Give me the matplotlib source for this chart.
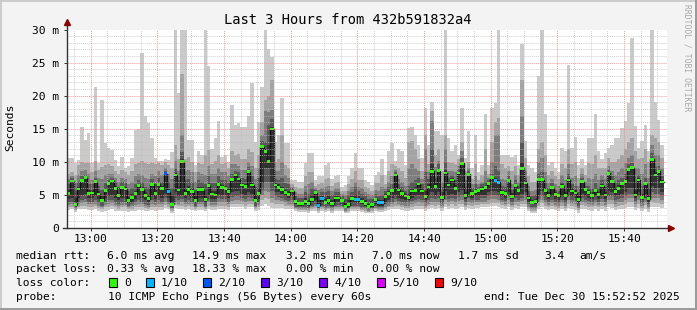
import matplotlib
matplotlib.use("Agg")
import matplotlib.pyplot as plt
import numpy as np
from matplotlib.lines import Line2D
from matplotlib.patches import Rectangle

# one column per minute, 12:53 .. 15:52 (ms)
median = [
    5.25, 7.1, 3.5, 5.9, 7.2, 7.6, 5.2, 5.3, 7.0, 5.15,
    4.2, 5.7, 6.7, 7.1, 6.0, 4.9, 6.1, 5.9, 4.1, 4.6,
    5.2, 6.4, 5.8, 4.9, 4.4, 6.6, 5.2, 6.6, 6.0, 8.2,
    5.5, 3.6, 8.0, 5.75, 10.05, 5.25, 5.85, 5.5, 4.15, 5.8,
    5.8, 4.25, 6.4, 5.15, 5.0, 6.6, 6.1, 6.0, 5.5, 7.3,
    8.0, 7.4, 6.5, 6.3, 8.5, 6.5, 4.1, 5.25, 12.3, 11.6,
    10.0, 14.95, 6.5, 6.15, 5.8, 5.35, 5.05, 5.6, 4.0, 3.75,
    3.75, 4.0, 3.65, 4.3, 5.35, 3.45, 4.45, 3.9, 4.15, 3.65,
    4.55, 4.55, 4.15, 3.2, 3.5, 4.5, 4.25, 4.3, 4.0, 3.65,
    3.25, 3.5, 4.35, 3.8, 3.8, 4.8, 5.2, 5.65, 8.0, 5.75,
    5.25, 4.85, 4.6, 5.6, 5.7, 6.65, 5.6, 4.75, 6.2, 8.55,
    6.3, 8.65, 4.6, 8.3, 6.5, 7.25, 6.0, 8.3, 9.75, 4.9,
    8.1, 5.2, 5.5, 5.65, 5.9, 6.1, 6.75, 7.6, 7.2, 6.9,
    5.4, 5.25, 7.2, 4.8, 6.4, 5.7, 9.05, 6.8, 4.55, 3.9,
    4.0, 7.3, 7.3, 5.65, 4.95, 6.1, 5.05, 4.9, 6.3, 4.9,
    7.25, 5.6, 5.3, 4.3, 7.0, 5.8, 5.35, 4.95, 5.65, 5.05,
    6.35, 5.0, 8.25, 7.0, 5.5, 6.0, 6.75, 7.0, 8.85, 9.1,
    5.0, 7.25, 4.65, 6.7, 4.45, 10.4, 8.0, 8.55, 6.95,
]

# sorted pings of each minute, ping1 fastest .. ping10 slowest (ms)
ping10 = [
    10.6, 10.6, 9.8, 10.3, 15.2, 13.3, 14.4, 9.8, 21.3, 9.8,
    19.3, 12.8, 12.1, 11.8, 10.3, 9.3, 10.8, 9.0, 9.3, 10.6,
    14.8, 15.0, 26.4, 16.9, 15.8, 13.6, 10.6, 10.2, 10.2, 10.4,
    10.3, 11.5, 32, 20.4, 32, 32, 13.3, 13.3, 9.5, 11.6,
    11.0, 32, 24.5, 12.0, 13.6, 16.1, 10.8, 11.0, 10.0, 18.6,
    15.6, 15.8, 15.3, 15.3, 16.9, 21.9, 13.0, 16.0, 21.3, 32,
    27.0, 25.8, 13.0, 14.0, 19.6, 12.8, 12.8, 7.2, 7.2, 7.0,
    7.0, 9.8, 11.3, 11.3, 7.2, 7.8, 7.8, 9.5, 9.8, 7.4,
    7.8, 8.0, 6.2, 6.5, 7.8, 9.0, 11.3, 9.0, 9.0, 7.2,
    7.0, 6.5, 8.0, 8.5, 10.5, 8.0, 11.6, 12.8, 10.2, 12.0,
    11.6, 9.5, 15.1, 15.2, 14.1, 12.6, 10.6, 18.1, 12.6, 19.0,
    14.6, 14.6, 14.0, 32, 13.6, 11.6, 12.6, 11.0, 18.1, 10.6,
    14.6, 9.0, 14.1, 8.5, 9.5, 17.2, 9.5, 18.1, 18.9, 32,
    11.0, 11.0, 11.0, 10.8, 11.0, 9.5, 27.8, 13.1, 9.5, 9.0,
    8.5, 23.0, 32, 17.2, 9.5, 10.0, 9.0, 8.5, 12.1, 11.6,
    24.6, 12.1, 13.8, 9.5, 10.5, 9.5, 13.6, 13.6, 17.2, 11.6,
    10.5, 11.3, 12.1, 12.6, 13.6, 13.6, 15.1, 16.1, 18.9, 28.7,
    15.4, 12.1, 13.1, 15.5, 11.6, 32, 19.0, 16.3, 12.5,
]
ping9 = [
    8.2, 8.5, 8.0, 9.5, 10.0, 9.8, 9.8, 8.5, 10.2, 8.8,
    9.2, 9.5, 9.6, 9.4, 8.6, 8.2, 8.8, 8.4, 8.0, 8.6,
    9.6, 9.8, 10.2, 9.8, 9.6, 9.8, 9.6, 9.8, 9.5, 10.0,
    9.5, 9.0, 12.6, 10.5, 23.2, 10.5, 10.8, 10.0, 8.4, 9.8,
    9.6, 11.0, 11.8, 9.6, 10.2, 11.0, 9.6, 9.8, 9.0, 11.6,
    11.0, 11.2, 10.4, 10.5, 12.0, 11.5, 9.0, 11.0, 16.0, 19.3,
    20.0, 22.4, 10.0, 10.5, 14.0, 9.5, 9.0, 6.6, 6.2, 6.0,
    6.0, 7.8, 8.5, 8.5, 6.4, 6.6, 6.8, 7.4, 7.6, 6.4,
    6.8, 7.0, 5.6, 5.6, 6.6, 7.4, 8.6, 7.2, 7.2, 6.2,
    6.0, 5.6, 6.8, 6.8, 8.0, 6.6, 8.6, 9.6, 9.4, 9.0,
    8.6, 7.6, 13.0, 13.2, 12.0, 10.4, 8.6, 14.0, 9.6, 17.7,
    11.0, 12.0, 8.6, 14.0, 10.0, 9.8, 9.6, 10.4, 13.0, 8.6,
    10.0, 7.4, 9.6, 7.2, 8.0, 12.0, 8.2, 13.0, 16.0, 16.6,
    9.6, 9.0, 9.4, 8.6, 9.4, 8.0, 22.3, 10.6, 7.8, 7.0,
    7.0, 12.0, 13.0, 11.0, 8.0, 8.6, 7.8, 7.4, 9.6, 9.0,
    12.0, 9.6, 10.0, 7.6, 9.0, 8.0, 9.8, 9.6, 11.0, 9.0,
    9.0, 9.0, 10.6, 10.0, 10.0, 10.4, 11.0, 12.0, 13.0, 13.6,
    11.6, 10.4, 10.6, 12.0, 10.0, 14.0, 13.6, 13.0, 10.6,
]
ping8 = [
    7.4, 7.8, 6.8, 8.0, 8.6, 8.8, 8.2, 7.2, 8.6, 7.6,
    7.4, 8.0, 8.2, 8.2, 7.6, 7.0, 7.6, 7.4, 6.6, 7.0,
    7.8, 8.2, 8.0, 7.6, 7.4, 8.2, 7.8, 8.6, 8.0, 9.0,
    8.2, 7.4, 10.2, 8.6, 14.0, 8.6, 8.8, 8.4, 7.0, 8.4,
    8.2, 8.0, 9.4, 8.2, 8.2, 9.0, 8.4, 8.4, 7.8, 9.6,
    9.6, 9.4, 8.8, 8.8, 10.0, 9.4, 7.4, 9.0, 14.0, 17.7,
    17.6, 17.8, 8.6, 8.6, 10.0, 8.0, 7.6, 6.2, 5.4, 5.2,
    5.2, 6.4, 6.6, 7.0, 6.0, 5.8, 6.0, 6.2, 6.4, 5.6,
    6.0, 6.0, 5.2, 5.0, 5.6, 6.2, 7.0, 6.2, 6.0, 5.4,
    5.2, 5.0, 5.8, 5.6, 6.2, 6.0, 7.0, 7.8, 8.8, 7.4,
    7.0, 6.4, 9.0, 9.6, 9.0, 8.6, 7.4, 12.0, 8.4, 16.1,
    9.2, 10.2, 7.0, 12.0, 8.6, 8.6, 8.4, 9.4, 11.6, 7.2,
    9.0, 6.6, 7.8, 6.6, 7.0, 8.6, 7.6, 10.0, 14.0, 14.0,
    7.4, 7.2, 8.6, 6.6, 8.0, 7.0, 17.0, 8.6, 6.4, 5.6,
    5.8, 10.0, 10.6, 8.4, 6.8, 7.4, 6.6, 6.4, 8.0, 7.2,
    9.6, 7.6, 7.8, 6.4, 8.2, 7.0, 7.6, 7.4, 8.2, 7.2,
    8.0, 7.4, 9.4, 8.6, 8.0, 8.4, 9.0, 9.8, 10.6, 11.0,
    9.0, 9.0, 8.2, 9.6, 7.6, 12.6, 11.0, 11.0, 9.0,
]
ping7 = [
    6.6, 7.5, 5.6, 7.0, 7.8, 8.0, 6.6, 6.6, 7.6, 6.4,
    5.8, 6.8, 7.3, 7.6, 7.0, 6.2, 7.0, 6.8, 5.6, 6.0,
    6.6, 7.2, 7.0, 6.2, 6.0, 7.4, 6.6, 7.5, 7.0, 8.6,
    7.0, 6.0, 9.0, 7.2, 11.5, 7.2, 7.4, 7.0, 5.8, 7.2,
    7.0, 6.6, 7.8, 6.8, 6.8, 7.8, 7.2, 7.2, 6.8, 8.2,
    8.6, 8.4, 7.6, 7.4, 9.2, 7.8, 6.2, 7.6, 13.2, 13.0,
    15.6, 16.4, 7.4, 7.2, 7.6, 6.8, 6.6, 6.0, 4.8, 4.6,
    4.6, 5.4, 5.2, 6.0, 5.8, 5.0, 5.4, 5.4, 5.6, 5.0,
    5.4, 5.4, 4.8, 4.4, 5.0, 5.4, 6.2, 5.6, 5.2, 4.8,
    4.4, 4.4, 5.2, 4.8, 5.0, 5.6, 6.2, 6.6, 8.4, 6.6,
    6.2, 5.6, 6.4, 7.0, 7.2, 7.6, 6.6, 8.4, 7.4, 12.0,
    7.6, 9.6, 6.2, 10.0, 7.6, 8.0, 7.2, 8.8, 10.6, 6.2,
    8.6, 6.0, 6.6, 6.2, 6.6, 7.0, 7.2, 8.2, 9.4, 8.6,
    6.4, 6.2, 7.8, 5.8, 7.2, 6.4, 13.0, 7.6, 5.6, 4.8,
    5.0, 8.2, 8.4, 6.8, 6.0, 6.8, 5.8, 5.6, 7.0, 6.0,
    8.2, 6.6, 6.4, 5.4, 7.6, 6.4, 6.4, 6.0, 6.8, 6.0,
    7.2, 6.2, 8.8, 7.8, 6.8, 7.2, 7.6, 8.2, 9.6, 9.8,
    7.0, 8.0, 6.4, 7.6, 6.0, 11.4, 9.2, 9.4, 7.8,
]
ping6 = [
    5.8, 7.2, 4.6, 6.2, 7.3, 7.7, 5.8, 5.8, 7.1, 5.6,
    4.8, 6.0, 6.8, 7.2, 6.4, 5.3, 6.3, 6.2, 4.7, 5.1,
    5.6, 6.6, 6.2, 5.4, 5.0, 6.8, 5.7, 6.8, 6.3, 8.3,
    5.9, 5.0, 8.3, 6.2, 10.4, 5.8, 6.3, 6.0, 4.8, 6.2,
    6.2, 5.0, 6.8, 5.6, 5.6, 6.9, 6.5, 6.4, 5.9, 7.6,
    8.2, 7.6, 6.8, 6.6, 8.7, 6.8, 5.0, 6.0, 12.6, 12.0,
    12.6, 15.2, 6.8, 6.6, 6.2, 5.8, 5.6, 5.8, 4.3, 4.0,
    4.0, 4.6, 4.2, 5.0, 5.5, 4.2, 4.8, 4.6, 4.8, 4.3,
    4.9, 4.9, 4.4, 3.8, 4.2, 4.8, 5.0, 4.8, 4.5, 4.2,
    3.7, 3.9, 4.6, 4.2, 4.2, 5.1, 5.6, 6.0, 8.2, 6.0,
    5.6, 5.2, 5.2, 6.0, 6.2, 7.0, 6.0, 5.6, 6.6, 9.6,
    6.8, 9.0, 5.4, 8.8, 6.9, 7.5, 6.5, 8.5, 10.0, 5.5,
    8.3, 5.6, 5.9, 5.9, 6.2, 6.4, 6.9, 7.8, 7.6, 7.2,
    5.8, 5.6, 7.4, 5.3, 6.7, 6.0, 10.0, 7.1, 5.0, 4.3,
    4.4, 7.6, 7.6, 6.1, 5.4, 6.4, 5.4, 5.2, 6.6, 5.4,
    7.6, 6.0, 5.8, 4.8, 7.2, 6.1, 5.8, 5.4, 6.1, 5.5,
    6.7, 5.5, 8.5, 7.3, 6.0, 6.5, 7.0, 7.4, 9.1, 9.4,
    5.8, 7.5, 5.2, 7.0, 5.0, 10.6, 8.4, 8.8, 7.3,
]
ping5 = [
    4.4, 4.6, 3.4, 4.6, 5.0, 5.2, 4.6, 4.6, 4.8, 4.4,
    3.8, 4.6, 4.9, 5.0, 4.6, 4.2, 4.6, 4.4, 3.8, 4.0,
    4.4, 4.8, 4.6, 4.2, 3.9, 4.8, 4.4, 4.8, 4.6, 5.2,
    4.6, 3.3, 5.4, 4.8, 5.0, 4.6, 4.8, 4.6, 3.8, 4.6,
    4.6, 3.8, 5.0, 4.4, 4.4, 5.2, 5.0, 5.0, 4.6, 5.4,
    5.6, 5.6, 5.2, 5.0, 5.4, 5.2, 3.8, 4.4, 6.8, 9.0,
    9.0, 7.0, 5.4, 5.4, 5.2, 4.8, 4.6, 4.8, 3.6, 3.4,
    3.4, 3.6, 3.3, 3.8, 4.2, 3.3, 3.8, 3.6, 3.7, 3.4,
    3.8, 3.9, 3.7, 3.0, 3.2, 3.8, 3.8, 3.8, 3.6, 3.4,
    3.0, 3.2, 3.6, 3.4, 3.4, 4.0, 4.3, 4.5, 5.0, 4.6,
    4.4, 4.2, 4.2, 4.6, 4.8, 5.0, 4.8, 4.2, 4.8, 5.4,
    5.0, 5.4, 4.2, 5.6, 5.0, 5.2, 5.0, 5.4, 5.8, 4.4,
    5.2, 4.6, 4.8, 4.8, 5.0, 5.0, 5.4, 5.6, 5.6, 5.4,
    4.8, 4.6, 5.4, 4.4, 5.0, 4.8, 5.2, 5.4, 4.0, 3.6,
    3.6, 5.0, 5.6, 4.8, 4.4, 4.8, 4.4, 4.2, 4.8, 4.2,
    5.4, 4.8, 4.6, 3.8, 5.2, 4.8, 4.6, 4.4, 4.8, 4.4,
    5.0, 4.4, 5.6, 5.4, 4.8, 5.0, 5.2, 5.4, 6.0, 6.0,
    4.6, 5.4, 4.2, 5.2, 4.0, 6.4, 6.0, 6.0, 5.4,
]
ping4 = [
    3.9, 4.0, 3.1, 4.0, 4.3, 4.4, 4.0, 4.0, 4.2, 3.8,
    3.4, 4.0, 4.2, 4.3, 4.0, 3.7, 4.0, 3.9, 3.4, 3.6,
    3.9, 4.2, 4.0, 3.7, 3.5, 4.2, 3.9, 4.2, 4.0, 4.6,
    4.0, 3.0, 4.6, 4.2, 4.4, 4.0, 4.2, 4.0, 3.4, 4.0,
    4.0, 3.4, 4.4, 3.9, 3.9, 4.5, 4.4, 4.4, 4.0, 4.7,
    4.9, 4.9, 4.6, 4.4, 4.7, 4.6, 3.4, 3.9, 5.8, 7.0,
    7.0, 5.6, 4.8, 4.7, 4.6, 4.3, 4.1, 4.2, 3.2, 3.1,
    3.1, 3.2, 3.0, 3.4, 3.7, 3.0, 3.4, 3.2, 3.3, 3.1,
    3.4, 3.5, 3.4, 2.8, 3.0, 3.4, 3.4, 3.4, 3.2, 3.1,
    2.8, 3.0, 3.3, 3.1, 3.1, 3.6, 3.8, 4.0, 4.4, 4.1,
    3.9, 3.8, 3.8, 4.1, 4.3, 4.4, 4.3, 3.8, 4.2, 4.6,
    4.4, 4.6, 3.8, 4.8, 4.4, 4.6, 4.4, 4.7, 5.0, 3.9,
    4.6, 4.2, 4.3, 4.3, 4.5, 4.5, 4.8, 5.0, 5.0, 4.8,
    4.3, 4.1, 4.8, 3.9, 4.5, 4.3, 4.6, 4.8, 3.6, 3.2,
    3.2, 4.4, 4.9, 4.3, 3.9, 4.3, 3.9, 3.8, 4.3, 3.8,
    4.8, 4.3, 4.1, 3.4, 4.6, 4.3, 4.1, 3.9, 4.3, 3.9,
    4.4, 3.9, 4.9, 4.8, 4.2, 4.4, 4.6, 4.8, 5.2, 5.2,
    4.1, 4.8, 3.8, 4.6, 3.6, 5.4, 5.2, 5.2, 4.8,
]
ping3 = [
    3.5, 3.6, 2.9, 3.6, 3.8, 3.9, 3.6, 3.6, 3.7, 3.4,
    3.1, 3.5, 3.7, 3.8, 3.5, 3.3, 3.5, 3.5, 3.1, 3.3,
    3.5, 3.7, 3.6, 3.4, 3.2, 3.7, 3.5, 3.7, 3.6, 4.0,
    3.6, 2.8, 4.0, 3.7, 3.9, 3.6, 3.7, 3.6, 3.1, 3.6,
    3.6, 3.1, 3.9, 3.5, 3.5, 3.9, 3.9, 3.9, 3.6, 4.1,
    4.3, 4.3, 4.1, 3.9, 4.1, 4.1, 3.1, 3.5, 5.0, 5.6,
    5.4, 4.6, 4.2, 4.2, 4.1, 3.9, 3.7, 3.7, 3.0, 2.9,
    2.9, 2.9, 2.8, 3.1, 3.3, 2.8, 3.1, 2.9, 3.0, 2.8,
    3.1, 3.2, 3.1, 2.6, 2.8, 3.1, 3.1, 3.1, 2.9, 2.8,
    2.6, 2.8, 3.0, 2.9, 2.9, 3.2, 3.4, 3.6, 3.9, 3.7,
    3.5, 3.4, 3.4, 3.6, 3.8, 3.9, 3.8, 3.4, 3.7, 4.0,
    3.9, 4.0, 3.4, 4.2, 3.9, 4.1, 3.9, 4.1, 4.3, 3.5,
    4.0, 3.8, 3.9, 3.9, 4.0, 4.0, 4.2, 4.4, 4.4, 4.3,
    3.9, 3.7, 4.2, 3.5, 4.0, 3.9, 4.1, 4.2, 3.2, 2.9,
    2.9, 3.9, 4.3, 3.8, 3.5, 3.8, 3.5, 3.4, 3.8, 3.4,
    4.2, 3.8, 3.6, 3.0, 4.0, 3.8, 3.6, 3.5, 3.8, 3.5,
    3.9, 3.5, 4.3, 4.2, 3.7, 3.9, 4.0, 4.2, 4.5, 4.5,
    3.6, 4.2, 3.4, 4.0, 3.2, 4.6, 4.5, 4.5, 4.2,
]
ping2 = [
    3.1, 3.2, 2.7, 3.2, 3.3, 3.4, 3.2, 3.2, 3.3, 3.0,
    2.8, 3.1, 3.2, 3.3, 3.1, 2.9, 3.1, 3.1, 2.8, 2.9,
    3.1, 3.2, 3.2, 3.0, 2.9, 3.2, 3.1, 3.2, 3.2, 3.5,
    3.2, 2.6, 3.5, 3.3, 3.4, 3.2, 3.3, 3.2, 2.8, 3.2,
    3.2, 2.8, 3.4, 3.1, 3.1, 3.4, 3.4, 3.4, 3.2, 3.6,
    3.7, 3.7, 3.6, 3.4, 3.6, 3.6, 2.8, 3.1, 4.2, 4.6,
    4.4, 3.8, 3.6, 3.6, 3.6, 3.4, 3.3, 3.3, 2.8, 2.7,
    2.7, 2.7, 2.6, 2.8, 3.0, 2.6, 2.8, 2.7, 2.8, 2.6,
    2.8, 2.9, 2.8, 2.4, 2.6, 2.8, 2.8, 2.8, 2.7, 2.6,
    2.4, 2.6, 2.8, 2.7, 2.7, 2.9, 3.1, 3.2, 3.4, 3.3,
    3.1, 3.0, 3.0, 3.2, 3.4, 3.4, 3.4, 3.0, 3.3, 3.5,
    3.4, 3.5, 3.0, 3.6, 3.4, 3.6, 3.4, 3.6, 3.7, 3.1,
    3.5, 3.4, 3.5, 3.5, 3.6, 3.6, 3.7, 3.8, 3.8, 3.8,
    3.5, 3.3, 3.7, 3.1, 3.5, 3.4, 3.6, 3.7, 2.9, 2.6,
    2.6, 3.4, 3.8, 3.4, 3.1, 3.4, 3.1, 3.0, 3.4, 3.0,
    3.6, 3.3, 3.2, 2.7, 3.5, 3.3, 3.2, 3.1, 3.3, 3.1,
    3.4, 3.1, 3.7, 3.6, 3.2, 3.4, 3.5, 3.6, 3.9, 3.9,
    3.2, 3.6, 3.0, 3.5, 2.8, 3.9, 3.8, 3.8, 3.6,
]
ping1 = [
    2.7, 2.8, 2.4, 2.8, 2.8, 2.9, 2.7, 2.7, 2.8, 2.6,
    2.4, 2.6, 2.7, 2.8, 2.6, 2.5, 2.6, 2.6, 2.4, 2.5,
    2.6, 2.7, 2.7, 2.6, 2.5, 2.7, 2.6, 2.7, 2.7, 3.0,
    2.8, 2.3, 3.0, 2.8, 2.9, 2.7, 2.8, 2.7, 2.5, 2.7,
    2.7, 2.5, 2.9, 2.7, 2.7, 2.9, 2.9, 2.9, 2.7, 3.1,
    3.2, 3.2, 3.1, 2.9, 3.1, 3.1, 2.5, 2.7, 3.3, 3.6,
    3.4, 3.0, 3.0, 3.0, 3.0, 2.9, 2.8, 2.8, 2.5, 2.4,
    2.4, 2.4, 2.3, 2.5, 2.6, 2.3, 2.5, 2.4, 2.5, 2.3,
    2.5, 2.5, 2.5, 2.2, 2.3, 2.5, 2.5, 2.5, 2.4, 2.3,
    2.2, 2.3, 2.5, 2.4, 2.4, 2.5, 2.7, 2.8, 2.9, 2.8,
    2.7, 2.6, 2.6, 2.7, 2.9, 2.9, 2.9, 2.6, 2.8, 3.0,
    2.9, 3.0, 2.6, 3.1, 2.9, 3.0, 2.9, 3.0, 3.1, 2.7,
    3.0, 2.9, 3.0, 3.0, 3.1, 3.1, 3.2, 3.3, 3.3, 3.2,
    3.0, 2.8, 3.1, 2.7, 3.0, 2.9, 3.1, 3.2, 2.6, 2.3,
    2.3, 2.9, 3.2, 2.9, 2.7, 2.9, 2.7, 2.6, 2.9, 2.6,
    3.0, 2.8, 2.7, 2.3, 2.9, 2.8, 2.7, 2.6, 2.8, 2.6,
    2.9, 2.6, 3.1, 3.0, 2.7, 2.9, 2.9, 3.0, 3.2, 3.2,
    2.7, 3.0, 2.6, 2.9, 2.4, 3.2, 3.1, 3.1, 3.0,
]

# minutes with lost pings (column index, lost out of 10)
loss_cols = [29, 30, 75, 76, 86, 87, 93, 94, 128, 129]
loss_vals = [2, 1, 1, 1, 1, 1, 1, 1, 1, 1]

start_time = "12:52:52"
tick_labels = ["13:00", "13:20", "13:40", "14:00", "14:20", "14:40", "15:00", "15:20", "15:40"]
ytick_values = [0, 5, 10, 15, 20, 25, 30]
ytick_labels = ["0", "5 m", "10 m", "15 m", "20 m", "25 m", "30 m"]

loss_keys = [0, 1, 2, 3, 4, 5, 9]
loss_names = ["0", "1/10", "2/10", "3/10", "4/10", "5/10", "9/10"]
loss_colors = ["#26ff00", "#00b8ff", "#0059ff", "#5e00ff", "#7e00ff", "#dd00ff", "#ff0000"]

rtt_stats = ["6.0 ms avg", "14.9 ms max", "3.2 ms min", "7.0 ms now", "1.7 ms sd", "3.4", "am/s"]
loss_stats = ["0.33 % avg", "18.33 % max", "0.00 % min", "0.00 % now"]
probe_text = "10 ICMP Echo Pings (56 Bytes) every 60s"
end_text = "end: Tue Dec 30 15:52:52 2025"

pings = [ping1, ping2, ping3, ping4, ping5, ping6, ping7, ping8, ping9, ping10]
n = len(median)
assert all(len(p) == n for p in pings)

W, H = 697, 310
MONO = "DejaVu Sans Mono"
FS = 8.1


def clock_to_min(s):
    parts = [int(v) for v in s.split(":")]
    while len(parts) < 3:
        parts.append(0)
    return parts[0] * 60 + parts[1] + parts[2] / 60.0


def fx(px):
    return px / W


def fy(py):
    return 1 - py / H


t0 = clock_to_min(start_time)

fig = plt.figure(figsize=(W / 100, H / 100), dpi=100, facecolor="#f3f3f3")
ax = fig.add_axes([fx(67), fy(228), 600 / W, 198.5 / H])
ax.set_facecolor("white")
ax.set_xlim(0, 180)
ax.set_ylim(0, 30)

# smoke: nested layers, outer pair lightest
edges = np.arange(n + 1)
smoke_colors = ["#cacaca", "#a4a4a4", "#7e7e7e", "#585858", "#323232"]
for i in range(5):
    lo = np.append(pings[i], pings[i][-1])
    hi = np.append(pings[9 - i], pings[9 - i][-1])
    ax.fill_between(edges, lo, hi, step="post", color=smoke_colors[i],
                    linewidth=0, zorder=2 + i)

# median line and loss coloured marks
ax.step(edges, np.append(median, median[-1]), where="post",
        color="#111111", lw=1.0, zorder=8)
loss = [0] * n
for c, v in zip(loss_cols, loss_vals):
    loss[c] = v
mark_colors = [loss_colors[loss_keys.index(v)] for v in loss]
ax.bar(np.arange(n), 0.42, bottom=np.array(median) - 0.21, width=1.0,
       align="edge", color=mark_colors, linewidth=0, zorder=9)

# grid drawn over the data like rrdtool
dots = (0, (1, 1))
for v in range(1, 30):
    if v % 5 == 0:
        ax.axhline(v, color="#ff8080", lw=0.7, ls=dots, alpha=0.8, zorder=10)
    else:
        ax.axhline(v, color="#bdbdbd", lw=0.7, ls=dots, alpha=0.7, zorder=10)
first5 = (int(t0) // 5 + 1) * 5
m = first5
while m - t0 < 180:
    pos = m - t0
    if m % 20 == 0:
        ax.axvline(pos, color="#ff8080", lw=0.7, ls=dots, alpha=0.8, zorder=10)
    else:
        ax.axvline(pos, color="#bdbdbd", lw=0.7, ls=dots, alpha=0.7, zorder=10)
    m += 5

# axes, arrows
for s in ax.spines.values():
    s.set_visible(False)
ax.add_line(Line2D([0, 0], [0, 1.035], transform=ax.transAxes, color="#333333",
                   lw=1.0, clip_on=False, zorder=11))
ax.add_line(Line2D([-0.007, 1.0], [0, 0], transform=ax.transAxes, color="#333333",
                   lw=1.0, clip_on=False, zorder=11))
ax.plot([0], [1.04], marker="^", ms=4, color="#8b0000", transform=ax.transAxes,
        clip_on=False, zorder=12)
ax.plot([1.007], [0], marker=">", ms=4, color="#8b0000", transform=ax.transAxes,
        clip_on=False, zorder=12)

tick_pos = [clock_to_min(t) - t0 for t in tick_labels]
ax.set_xticks(tick_pos)
ax.set_xticklabels(tick_labels, family=MONO, fontsize=FS)
ax.set_yticks(ytick_values)
ax.set_yticklabels(ytick_labels, family=MONO, fontsize=FS)
ax.tick_params(axis="x", length=2, width=0.7, color="#333333", pad=2.5)
ax.tick_params(axis="y", length=2, width=0.7, color="#333333", pad=3.5)

# titles
fig.text(fx(348), fy(24), "Last 3 Hours from 432b591832a4", ha="center",
         va="baseline", family=MONO, fontsize=9.9)
fig.text(fx(10.5), fy(127), "Seconds", rotation=90, ha="center", va="center",
         family=MONO, fontsize=FS)
fig.text(fx(687), fy(4), "RRDTOOL / TOBI OETIKER", rotation=270, ha="center",
         va="top", family=MONO, fontsize=5.8, color="#a8a8a8")

# legend block
rows_y = [258.7, 272.2, 285.9, 299.6]
fig.text(fx(16), fy(rows_y[0]), "median rtt:", va="baseline", family=MONO, fontsize=FS)
rtt_x = [107, 192, 286, 372, 458, 544, 579]
for x, s in zip(rtt_x, rtt_stats):
    fig.text(fx(x), fy(rows_y[0]), s, va="baseline", family=MONO, fontsize=FS)
fig.text(fx(16), fy(rows_y[1]), "packet loss:", va="baseline", family=MONO, fontsize=FS)
loss_x = [107, 192, 286, 372]
for x, s in zip(loss_x, loss_stats):
    fig.text(fx(x), fy(rows_y[1]), s, va="baseline", family=MONO, fontsize=FS)
fig.text(fx(16), fy(rows_y[2]), "loss color:", va="baseline", family=MONO, fontsize=FS)
box_x = [108.5, 145.5, 203, 261, 319, 377, 435]
for x, name, col in zip(box_x, loss_names, loss_colors):
    fig.patches.append(Rectangle((fx(x), fy(286.5)), 8 / W, 9 / H,
                                 transform=fig.transFigure, facecolor=col,
                                 edgecolor="black", lw=0.8))
    fig.text(fx(x + 15.3), fy(rows_y[2]), name, va="baseline", family=MONO, fontsize=FS)
fig.text(fx(16), fy(rows_y[3]), "probe:", va="baseline", family=MONO, fontsize=FS)
fig.text(fx(107.5), fy(rows_y[3]), probe_text, va="baseline", family=MONO, fontsize=FS)
fig.text(fx(680), fy(rows_y[3]), end_text, ha="right", va="baseline", family=MONO, fontsize=FS)

# 3d frame round the image
fig.add_artist(Line2D([0, 1], [fy(0.7), fy(0.7)], color="#cbcbcb", lw=1.4))
fig.add_artist(Line2D([fx(0.7), fx(0.7)], [0, 1], color="#cbcbcb", lw=1.4))
fig.add_artist(Line2D([0, 1], [fy(309.3), fy(309.3)], color="#999999", lw=1.4))
fig.add_artist(Line2D([fx(696.3), fx(696.3)], [0, 1], color="#999999", lw=1.4))

fig.savefig("out.png", dpi=100, facecolor=fig.get_facecolor())
